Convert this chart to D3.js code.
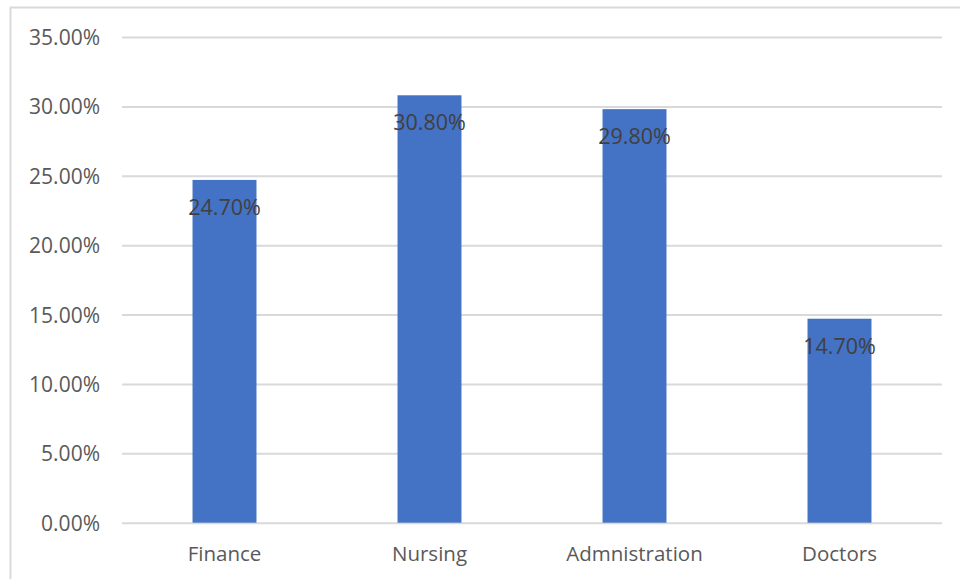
<!DOCTYPE html>
<html>
<head>
<meta charset="utf-8">
<script src="https://cdn.jsdelivr.net/npm/d3@7"></script>
<style>
  html, body { margin: 0; padding: 0; background: #ffffff; }
  svg { display: block; }
  text { font-family: "Open Sans", "Noto Sans", sans-serif; }
</style>
</head>
<body>
<script>
// Share of respondents by department
const categories = ["Finance", "Nursing", "Admnistration", "Doctors"];
const values = [0.247, 0.308, 0.298, 0.147];
const yTicks = [0, 0.05, 0.10, 0.15, 0.20, 0.25, 0.30, 0.35];

const width = 960, height = 579;
const plot = { left: 122, right: 942, top: 37, bottom: 522.7 };

const svg = d3.select("body").append("svg")
  .attr("width", width)
  .attr("height", height);

// chart area frame
svg.append("rect")
  .attr("x", 10.5).attr("y", 7.5)
  .attr("width", 980).attr("height", 600)
  .attr("fill", "#ffffff")
  .attr("stroke", "#d9d9d9")
  .attr("stroke-width", 2);

const x = d3.scaleBand()
  .domain(categories)
  .range([plot.left, plot.right])
  .paddingInner(0.688)
  .paddingOuter(0.344);

const y = d3.scaleLinear()
  .domain([0, 0.35])
  .range([plot.bottom, plot.top]);

const pct = d3.format(".2%");

// horizontal gridlines + y labels
const yAxis = d3.axisLeft(y)
  .tickValues(yTicks)
  .tickSize(-(plot.right - plot.left))
  .tickPadding(22)
  .tickFormat(pct);

const gy = svg.append("g")
  .attr("transform", `translate(${plot.left},0)`)
  .call(yAxis);
gy.select(".domain").remove();
gy.selectAll(".tick line")
  .attr("stroke", "#d9d9d9")
  .attr("stroke-width", 2);
gy.selectAll(".tick text")
  .attr("fill", "#595959")
  .attr("font-size", 21)
  .attr("dy", "0.36em");

// bars
svg.append("g")
  .selectAll("rect")
  .data(values)
  .join("rect")
  .attr("x", (d, i) => x(categories[i]))
  .attr("y", d => y(d))
  .attr("width", x.bandwidth())
  .attr("height", d => y(0) - y(d))
  .attr("fill", "#4472c4");

// value labels inside the top of each bar
svg.append("g")
  .selectAll("text")
  .data(values)
  .join("text")
  .attr("x", (d, i) => x(categories[i]) + x.bandwidth() / 2)
  .attr("y", d => y(d) + 35)
  .attr("text-anchor", "middle")
  .attr("fill", "#404040")
  .attr("font-size", 21.5)
  .text(d => pct(d));

// category axis
const xAxis = d3.axisBottom(x).tickSize(0).tickPadding(0);
const gx = svg.append("g")
  .attr("transform", `translate(0,${plot.bottom})`)
  .call(xAxis);
gx.select(".domain").remove();
gx.selectAll(".tick text")
  .attr("fill", "#595959")
  .attr("font-size", 20.5)
  .attr("y", 38)
  .attr("dy", 0);
</script>
</body>
</html>
